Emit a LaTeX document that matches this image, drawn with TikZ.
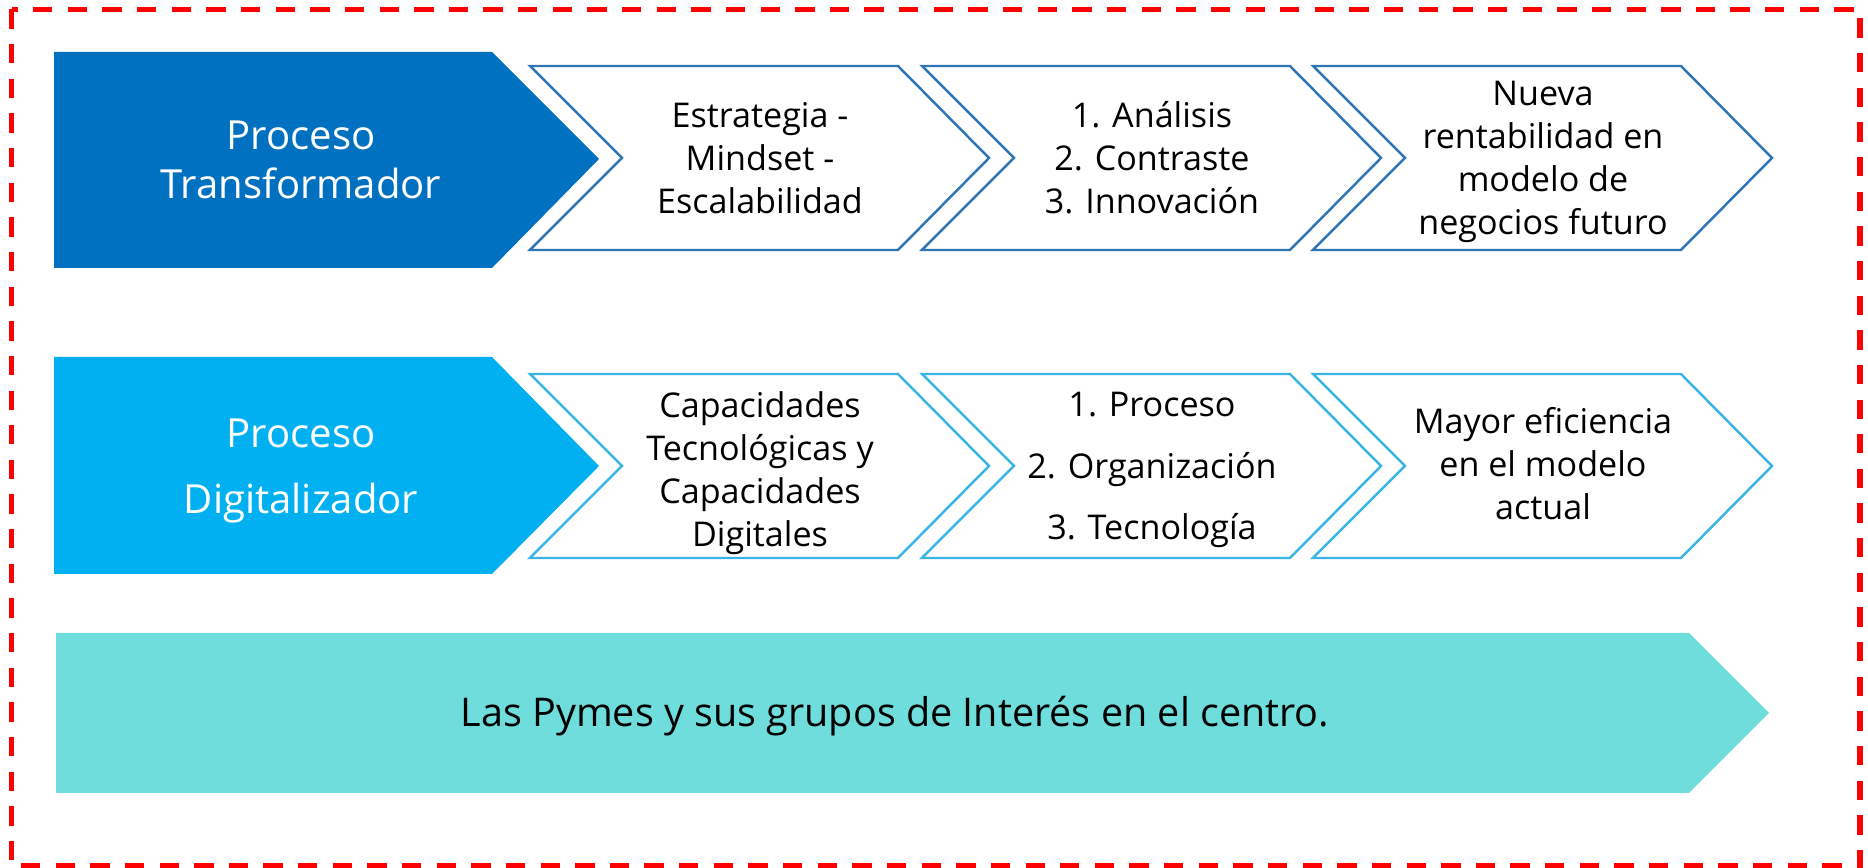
\documentclass[tikz,border=0pt]{standalone}
\usepackage{fontspec}
\setmainfont{Open Sans}
\definecolor{procdark}{HTML}{0070C0}
\definecolor{proclight}{HTML}{00B0F0}
\definecolor{procteal}{HTML}{6EDDDB}
\definecolor{chevdark}{HTML}{2E75B6}
\definecolor{chevlight}{HTML}{3AB4E6}
\newcommand{\chevshape}[5]{% #1 style, #2 left, #3 top, #4 bottom, #5 middle
  \draw[#1] (#2,#3) -- ({#2+368},#3) -- ({#2+459},#5) -- ({#2+368},#4) -- (#2,#4) -- ({#2+92},#5) -- cycle;}
\tikzset{
  redborder/.style={draw=red, line width=1.45pt, dash pattern=on 5.5pt off 4.35pt},
  chevrowone/.style={draw=chevdark, line width=0.7pt, fill=white, line join=miter},
  chevrowtwo/.style={draw=chevlight, line width=0.7pt, fill=white, line join=miter},
  headtext/.style={text=white, align=center, inner sep=0pt, font={\fontsize{11.4pt}{14pt}\selectfont}},
  headtexttwo/.style={headtext, font={\fontsize{11.4pt}{18.6pt}\selectfont}},
  chevtext/.style={text=black, align=center, inner sep=0pt, font={\fontsize{9.7pt}{12.2pt}\selectfont}},
  chevtextwide/.style={chevtext, font={\fontsize{9.7pt}{17.5pt}\selectfont}},
  basetext/.style={text=black, inner sep=0pt, font={\fontsize{11.25pt}{14pt}\selectfont}}
}
\begin{document}
\begin{tikzpicture}[x=0.01cm,y=-0.01cm]
\useasboundingbox (0,0) rectangle (1868,868);
\draw[redborder] (11.5,9.5) rectangle (1860,866);

% row 1
\fill[procdark] (54,52) -- (492,52) -- (599,159) -- (492,268) -- (54,268) -- cycle;
\chevshape{chevrowone}{530}{66}{250}{158}
\chevshape{chevrowone}{922}{66}{250}{158}
\chevshape{chevrowone}{1313}{66}{250}{158}
\node[headtext] (hone) at (301,160) {Proceso\\Transformador};
\node[chevtext] (aone) at (760,158) {Estrategia -\\Mindset -\\Escalabilidad};
\node[chevtext] (bone) at (1152,158) {1. Análisis\\2. Contraste\\3. Innovación};
\node[chevtext] (cone) at (1543,162) {Nueva\\rentabilidad en\\modelo de\\negocios futuro};

% row 2
\fill[proclight] (54,357) -- (492,357) -- (599,466) -- (492,574) -- (54,574) -- cycle;
\chevshape{chevrowtwo}{530}{374}{558}{466}
\chevshape{chevrowtwo}{922}{374}{558}{466}
\chevshape{chevrowtwo}{1313}{374}{558}{466}
\node[headtexttwo] (htwo) at (301,471) {Proceso\\Digitalizador};
\node[chevtext] (atwo) at (760,473) {Capacidades\\Tecnológicas y\\Capacidades\\Digitales};
\node[chevtextwide] (btwo) at (1152,470) {1. Proceso\\2. Organización\\3. Tecnología};
\node[chevtext] (ctwo) at (1543,464) {Mayor eficiencia\\en el modelo\\actual};

% row 3
\fill[procteal] (56,633) -- (1689,633) -- (1769,713) -- (1689,793) -- (56,793) -- cycle;
\node[basetext] (bottom) at (895,716) {Las Pymes y sus grupos de Interés en el centro.};
\end{tikzpicture}
\end{document}
